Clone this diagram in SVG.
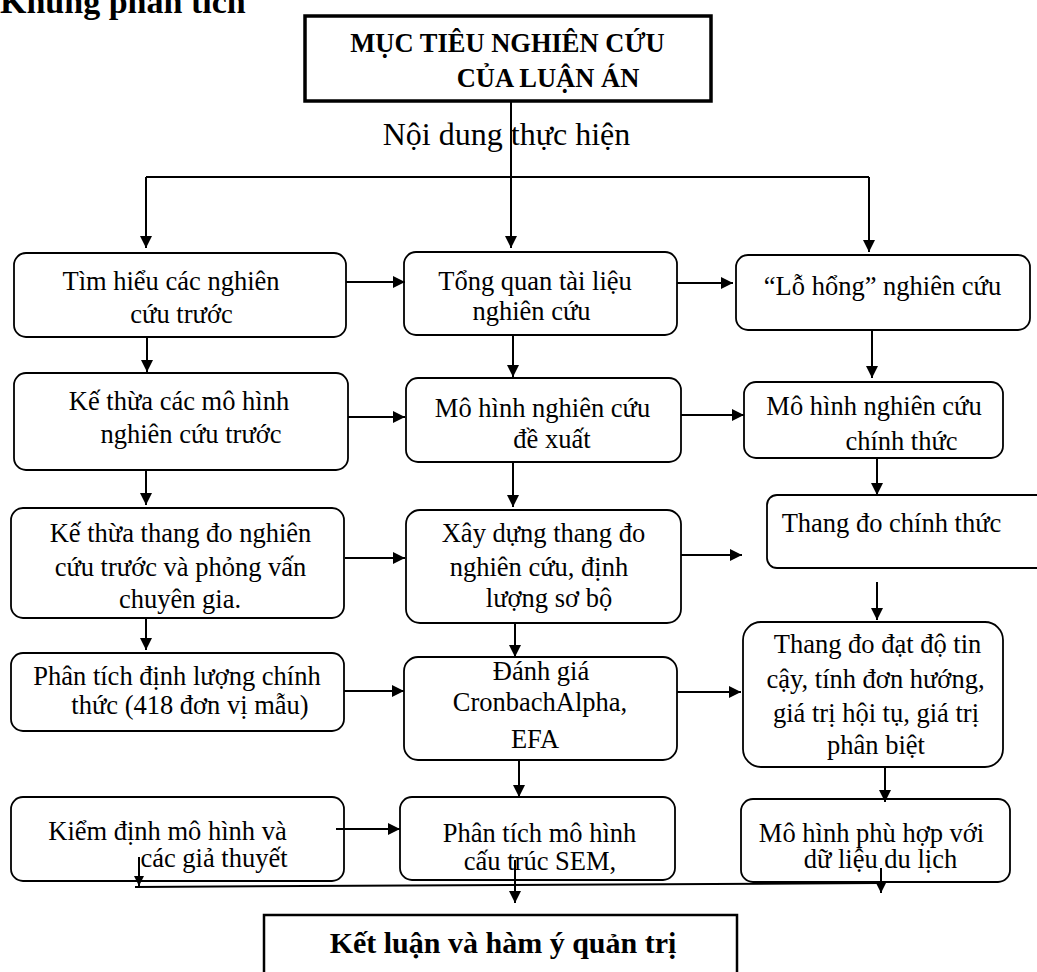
<svg xmlns="http://www.w3.org/2000/svg" width="1037" height="972" viewBox="0 0 1037 972">
<style>
text{font-family:"Liberation Serif","Times New Roman",serif;fill:#000}
.t{font-size:26.5px;text-anchor:middle}
.b{font-weight:bold;text-anchor:middle}
.box{fill:#fff;stroke:#000;stroke-width:1.8}
.c{fill:none;stroke:#000;stroke-width:2}
</style>
<defs>
<marker id="ah" markerUnits="userSpaceOnUse" markerWidth="13" markerHeight="13" refX="12" refY="6.5" orient="auto" viewBox="0 0 13 13">
<path d="M0,0.5 L12,6.5 L0,12.5 z" fill="#000"/>
</marker>
<marker id="ahs" markerUnits="userSpaceOnUse" markerWidth="11" markerHeight="11" refX="10" refY="5.5" orient="auto" viewBox="0 0 11 11">
<path d="M0,0.5 L10,5.5 L0,10.5 z" fill="#000"/>
</marker>
</defs>
<rect width="1037" height="972" fill="#fff"/>
<text x="0" y="13" style="font-size:34px;font-weight:bold">Khung phân tích</text>

<g id="n-top">
<rect x="305" y="16" width="406" height="85" fill="#fff" stroke="#000" stroke-width="3.5"/>
<text class="b" x="507.5" y="52" font-size="26.5">MỤC TIÊU NGHIÊN CỨU</text>
<text class="b" x="548" y="87" font-size="26.5">CỦA LUẬN ÁN</text>
</g>
<g id="n-noidung">
<text x="506.5" y="145" style="font-size:32px;text-anchor:middle">Nội dung thực hiện</text>
</g>

<g id="n-a1"><rect class="box" x="14" y="253" width="332" height="84" rx="12"/>
<text class="t" x="171" y="290">Tìm hiểu các nghiên</text><text class="t" x="181.5" y="323">cứu trước</text></g>
<g id="n-b1"><rect class="box" x="404" y="252" width="273" height="83" rx="12"/>
<text class="t" x="535" y="290">Tổng quan tài liệu</text><text class="t" x="531.5" y="320">nghiên cứu</text></g>
<g id="n-c1"><rect class="box" x="736" y="255" width="294" height="75" rx="12"/>
<text class="t" x="882.5" y="295">“Lỗ hổng” nghiên cứu</text></g>

<g id="n-a2"><rect class="box" x="14" y="373" width="334" height="97" rx="12"/>
<text class="t" x="179" y="410">Kế thừa các mô hình</text><text class="t" x="191" y="443">nghiên cứu trước</text></g>
<g id="n-b2"><rect class="box" x="406" y="378" width="275" height="84" rx="12"/>
<text class="t" x="542.5" y="417">Mô hình nghiên cứu</text><text class="t" x="552" y="448">đề xuất</text></g>
<g id="n-c2"><rect class="box" x="744" y="382" width="259" height="76" rx="12"/>
<text class="t" x="874" y="415">Mô hình nghiên cứu</text><text class="t" x="901.5" y="450">chính thức</text></g>

<g id="n-a3"><rect class="box" x="11" y="508" width="333" height="110" rx="12"/>
<text class="t" x="180.5" y="542">Kế thừa thang đo nghiên</text><text class="t" x="180.5" y="576">cứu trước và phỏng vấn</text><text class="t" x="180" y="608">chuyên gia.</text></g>
<g id="n-b3"><rect class="box" x="406" y="510" width="275" height="113" rx="14"/>
<text class="t" x="543.5" y="542">Xây dựng thang đo</text><text class="t" x="539" y="576">nghiên cứu, định</text><text class="t" x="549" y="607">lượng sơ bộ</text></g>
<g id="n-c3"><rect class="box" x="767" y="495" width="290" height="73" rx="10"/>
<text class="t" x="891.5" y="532">Thang đo chính thức</text></g>

<g id="n-a4"><rect class="box" x="11" y="653" width="333" height="78" rx="12"/>
<text class="t" x="177" y="685">Phân tích định lượng chính</text><text class="t" x="190" y="714">thức (418 đơn vị mẫu)</text></g>
<g id="n-b4"><rect class="box" x="404" y="657" width="273" height="103" rx="14"/>
<text class="t" x="541" y="680">Đánh giá</text><text class="t" x="540" y="711">CronbachAlpha,</text><text class="t" x="535" y="748">EFA</text></g>
<g id="n-c4"><rect class="box" x="743" y="622" width="260" height="145" rx="18"/>
<text class="t" x="877.5" y="653">Thang đo đạt độ tin</text><text class="t" x="875.5" y="688">cậy, tính đơn hướng,</text><text class="t" x="876" y="722">giá trị hội tụ, giá trị</text><text class="t" x="876" y="754">phân biệt</text></g>

<g id="n-a5"><rect class="box" x="11" y="797" width="333" height="84" rx="12"/>
<text class="t" x="167.5" y="840">Kiểm định mô hình và</text><text class="t" x="214" y="867">các giả thuyết</text></g>
<g id="n-b5"><rect class="box" x="400" y="797" width="275" height="83" rx="12"/>
<text class="t" x="539.5" y="842">Phân tích mô hình</text><text class="t" x="540" y="870">cấu trúc SEM,</text></g>
<g id="n-c5"><rect class="box" x="741" y="799" width="269" height="83" rx="12"/>
<text class="t" x="871.5" y="842">Mô hình phù hợp với</text><text class="t" x="880.5" y="868">dữ liệu du lịch</text></g>

<g id="n-end"><rect x="264" y="915" width="473" height="80" fill="#fff" stroke="#000" stroke-width="2.5"/>
<text class="b" x="503" y="953" font-size="30">Kết luận và hàm ý quản trị</text></g>

<g id="connectors" class="c">
<path d="M511,102 V248" marker-end="url(#ah)"/>
<path d="M146,177 H869"/>
<path d="M146,177 V248" marker-end="url(#ah)"/>
<path d="M869,177 V252" marker-end="url(#ah)"/>
<path d="M346,282 H405" marker-end="url(#ah)"/>
<path d="M677,283 H733" marker-end="url(#ah)"/>
<path d="M147,337 V372" marker-end="url(#ah)"/>
<path d="M513,335 V377" marker-end="url(#ah)"/>
<path d="M872,330 V378" marker-end="url(#ah)"/>
<path d="M348,417 H405" marker-end="url(#ah)"/>
<path d="M681,415 H744" marker-end="url(#ah)"/>
<path d="M146,470 V505" marker-end="url(#ah)"/>
<path d="M513,462 V507" marker-end="url(#ah)"/>
<path d="M877,458 V495" marker-end="url(#ah)"/>
<path d="M345,558 H405" marker-end="url(#ah)"/>
<path d="M681,555 H742" marker-end="url(#ah)"/>
<path d="M146,618 V650" marker-end="url(#ah)"/>
<path d="M515,623 V657" marker-end="url(#ah)"/>
<path d="M877,582 V620" marker-end="url(#ah)"/>
<path d="M344,691 H404" marker-end="url(#ah)"/>
<path d="M677,692 H741" marker-end="url(#ah)"/>
<path d="M519,760 V797" marker-end="url(#ah)"/>
<path d="M885,767 V802" marker-end="url(#ah)"/>
<path d="M336,829 H400" marker-end="url(#ah)"/>
<path d="M135,887 L881,883"/>
<path d="M139,857 V886" marker-end="url(#ahs)"/>
<path d="M515,860 V903" marker-end="url(#ah)"/>
<path d="M881,868 V893" marker-end="url(#ah)"/>
</g>
</svg>
